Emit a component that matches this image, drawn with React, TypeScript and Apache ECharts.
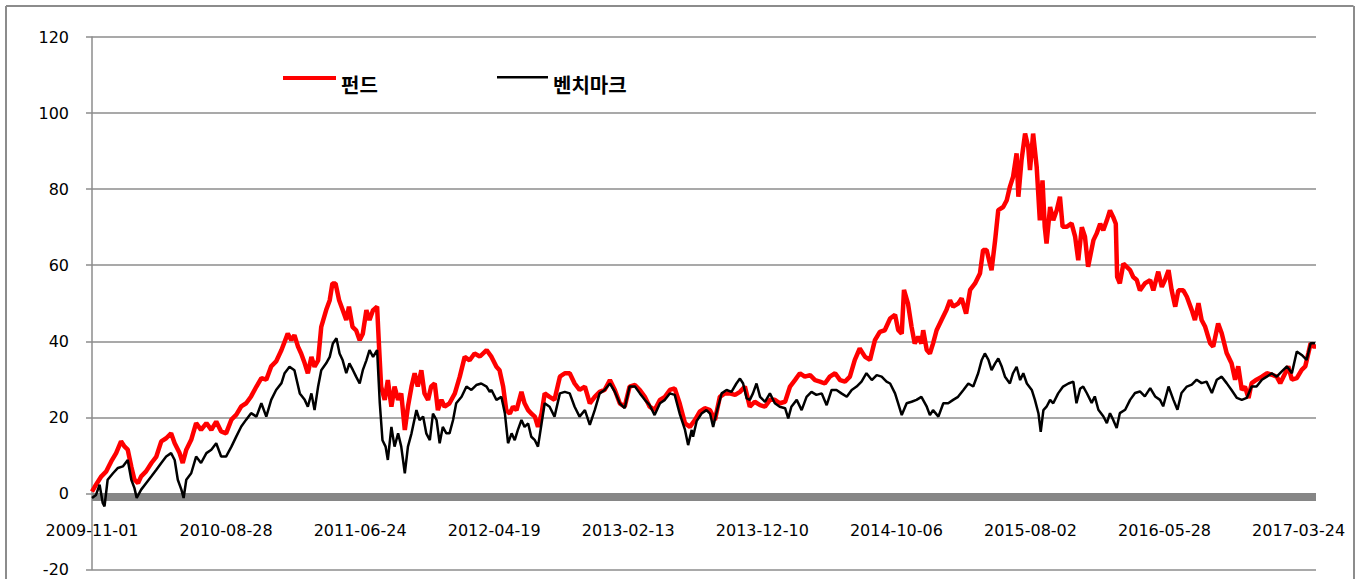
import React, { useEffect, useRef } from "react";
import * as echarts from "echarts";

// x values are calendar days counted from 2009-11-01
const startDate = "2009-11-01";
const tickLabels = [
  "2009-11-01", "2010-08-28", "2011-06-24", "2012-04-19", "2013-02-13",
  "2013-12-10", "2014-10-06", "2015-08-02", "2016-05-28", "2017-03-24",
];
const tickStepDays = 300;
const lastDay = 2739;

const yTicks = { min: -20, max: 120, step: 20 };

const legendNames = ["펀드", "벤치마크"];

// 펀드 (fund) — [day, value]
const fundPoints: [number, number][] = [
  [0, 0.5], [9, 2.3], [21, 4.5], [32, 5.8], [43, 8.4], [54, 10.6], [65, 13.7], [73, 12.3],
  [80, 11.5], [88, 7], [95, 3.6], [103, 2.7], [110, 4.5], [121, 5.8], [133, 8], [144, 9.7],
  [155, 13.7], [166, 14.5], [177, 15.8], [185, 13.2], [196, 10.6], [203, 8], [211, 11.5],
  [222, 14.1], [233, 18.5], [244, 16.7], [256, 18.5], [267, 16.7], [278, 18.9], [289, 16.3],
  [300, 15.8], [312, 19.4], [323, 20.7], [334, 22.9], [345, 23.7], [356, 25.5], [368, 28.1],
  [379, 30.3], [390, 29.9], [401, 33.4], [412, 34.7], [424, 37.7], [438, 42], [446, 40.3],
  [453, 41.6], [461, 38.6], [468, 36.8], [476, 34.2], [483, 31.6], [491, 35.9], [498, 33.3],
  [506, 35], [513, 43.8], [524, 48.2], [532, 50.8], [538, 55.2], [545, 55.2], [553, 50.8],
  [561, 48.2], [569, 45.6], [575, 49.1], [583, 43.8], [591, 42.9], [599, 40.3], [606, 42],
  [614, 48.2], [621, 45.6], [629, 48.2], [638, 49.1], [642, 39.4], [647, 28.1], [655, 24.6],
  [662, 29.8], [670, 22.8], [677, 28.1], [685, 24.6], [692, 26.3], [700, 16.7], [707, 22.8],
  [715, 28.1], [722, 31.6], [729, 28.1], [737, 32.4], [744, 26.3], [752, 24.6], [759, 28.1],
  [767, 28.9], [774, 21.9], [782, 24.6], [789, 22.8], [800, 23.7], [812, 26.3], [823, 30.7],
  [834, 35.9], [845, 35], [856, 36.8], [868, 36], [883, 37.7], [894, 35.9], [905, 33.3],
  [912, 32.4], [920, 28.1], [927, 21.9], [935, 21], [942, 22.8], [950, 21.9], [961, 26.7],
  [968, 23.7], [976, 21.9], [983, 21], [991, 20.2], [998, 17.5], [1006, 21], [1013, 26.3],
  [1024, 25.4], [1035, 24.6], [1047, 30.7], [1058, 31.6], [1069, 31.6], [1080, 28.9],
  [1091, 27.2], [1103, 28.1], [1114, 23.7], [1125, 25.4], [1136, 26.7], [1147, 27.2],
  [1159, 29.8], [1170, 27.2], [1181, 23.7], [1192, 22.8], [1203, 28.1], [1215, 28.5],
  [1226, 27.2], [1237, 25.4], [1248, 22.8], [1259, 21.9], [1271, 24.6], [1282, 25.4],
  [1293, 27.2], [1304, 27.6], [1315, 23.7], [1327, 18.4], [1338, 17.5], [1349, 19.3],
  [1360, 21.5], [1371, 22.4], [1383, 21.9], [1394, 19.3], [1405, 25.4], [1416, 26.3],
  [1427, 26.3], [1439, 25.9], [1450, 26.7], [1461, 28.1], [1472, 22.8], [1483, 24.1],
  [1495, 23.2], [1506, 22.8], [1517, 24.6], [1528, 24.6], [1539, 23.7], [1551, 24.1],
  [1562, 28.1], [1573, 29.8], [1584, 31.6], [1595, 30.7], [1607, 31.1], [1618, 29.8],
  [1629, 29.4], [1640, 28.9], [1651, 30.7], [1663, 31.6], [1674, 29.8], [1685, 29.4],
  [1696, 30.7], [1707, 35.1], [1718, 38.1], [1730, 35.9], [1741, 35.1], [1752, 40.3],
  [1763, 42.5], [1774, 42.9], [1786, 46], [1797, 47], [1804, 43], [1812, 42], [1817, 53.5],
  [1826, 49.9], [1834, 43.8], [1841, 39.4], [1849, 41.2], [1856, 39.4], [1860, 42.9],
  [1868, 37.7], [1875, 36.8], [1882, 39.4], [1890, 42.9], [1901, 45.6], [1912, 48.2],
  [1920, 50.8], [1927, 49.1], [1938, 49.9], [1946, 51.3], [1956, 47.3], [1965, 53.5],
  [1976, 55.2], [1987, 57.8], [1994, 64], [2002, 64], [2009, 60.5], [2013, 58.7], [2021, 66.6],
  [2028, 74.5], [2039, 75.3], [2047, 77.1], [2054, 80.6], [2061, 83.2], [2069, 89.4],
  [2073, 78], [2080, 87.6], [2088, 94.6], [2095, 91.1], [2099, 85], [2106, 94.6], [2114, 85.8],
  [2121, 71.8], [2127, 82.3], [2132, 70.1], [2136, 65.7], [2144, 75.3], [2151, 71.8],
  [2159, 74.5], [2166, 78], [2172, 70.1], [2181, 70.1], [2192, 71], [2200, 67.5], [2207, 61.3],
  [2215, 70], [2222, 67.5], [2229, 59.6], [2241, 66.6], [2248, 68.3], [2256, 70.9],
  [2263, 69.2], [2271, 71.8], [2278, 74.4], [2285, 72.7], [2291, 70.9], [2294, 56.9],
  [2300, 55.2], [2308, 60.4], [2315, 59.6], [2323, 58.7], [2330, 56.9], [2338, 56.1],
  [2345, 53.4], [2356, 55.2], [2368, 56.1], [2375, 53.4], [2386, 58.3], [2394, 54.3],
  [2401, 56.1], [2409, 58.7], [2416, 53.4], [2424, 49.1], [2431, 53.4], [2442, 53.4],
  [2450, 51.7], [2461, 48.2], [2468, 45.6], [2476, 50], [2483, 45.6], [2491, 43.8],
  [2502, 39.5], [2509, 38.6], [2520, 44.7], [2528, 42.1], [2539, 36.9], [2550, 34.2],
  [2558, 29.9], [2565, 33.4], [2573, 27.2], [2580, 28.1], [2588, 25.1], [2595, 29],
  [2606, 29.9], [2618, 30.7], [2629, 31.6], [2640, 31.2], [2651, 30.7], [2659, 29],
  [2670, 31.6], [2677, 33.4], [2685, 29.9], [2696, 30.3], [2707, 32.5], [2715, 33.4],
  [2722, 36.9], [2727, 39.5], [2733, 38.6], [2739, 38.6],
];

// 벤치마크 (benchmark) — [day, value]
const benchPoints: [number, number][] = [
  [0, -1.2], [9, -0.4], [17, 2.3], [24, -2.5], [28, -3.4], [35, 3.6], [47, 5.3], [58, 6.7],
  [69, 7.1], [80, 8.8], [88, 3.6], [95, 1.4], [100, -1.2], [110, 1], [121, 2.7], [133, 4.5],
  [144, 6.2], [155, 8], [166, 9.7], [177, 10.6], [185, 8.8], [192, 3.6], [200, 1], [205, -1.2],
  [211, 3.6], [222, 5.3], [233, 9.7], [244, 8], [256, 10.6], [267, 11.5], [278, 13.2],
  [289, 9.7], [300, 9.7], [312, 12.3], [323, 15], [334, 17.6], [345, 19.4], [356, 21.1],
  [368, 20.2], [379, 23.7], [390, 20.2], [401, 24.6], [412, 27.2], [424, 29], [431, 31.6],
  [442, 33.3], [453, 32.4], [465, 26.3], [476, 24.6], [483, 22.8], [491, 26.3], [498, 21.9],
  [506, 28.1], [513, 32.4], [524, 34.2], [532, 35.9], [539, 39.4], [547, 40.8], [554, 36.8],
  [561, 35], [569, 31.6], [576, 34.2], [584, 32.4], [591, 30.7], [599, 28.9], [606, 32.4],
  [614, 35], [621, 37.7], [629, 35.9], [638, 37.7], [644, 23.7], [650, 14], [657, 12.3],
  [662, 8.8], [670, 17.5], [677, 12.3], [685, 15.8], [692, 12.3], [700, 5.3], [707, 12.3],
  [715, 15.8], [726, 21.9], [733, 19.3], [741, 20.2], [748, 15.8], [756, 14], [763, 21],
  [771, 19.3], [778, 13.2], [785, 17.5], [793, 15.8], [800, 15.8], [808, 19.3], [815, 23.7],
  [827, 25.4], [838, 28.1], [849, 27.2], [860, 28.5], [871, 28.9], [883, 28.1], [890, 26.7],
  [894, 27.2], [905, 24.6], [916, 25.4], [924, 21], [931, 13.2], [939, 15.8], [946, 14],
  [953, 16.7], [961, 19.3], [968, 17.5], [976, 18.4], [983, 14.9], [991, 14], [998, 12.3],
  [1006, 18.4], [1013, 23.7], [1024, 22.8], [1035, 20.2], [1047, 26.3], [1058, 26.7],
  [1069, 26.3], [1080, 22.8], [1091, 20.2], [1103, 21.9], [1114, 18], [1125, 21.9],
  [1136, 26.3], [1147, 27.2], [1159, 28.9], [1170, 26.7], [1181, 23.7], [1192, 22.4],
  [1203, 28.1], [1215, 28.1], [1226, 26.3], [1237, 24.6], [1248, 23.2], [1259, 20.6],
  [1271, 23.7], [1282, 24.6], [1293, 26.3], [1304, 25.9], [1315, 21], [1327, 16.7],
  [1334, 12.7], [1342, 16.7], [1345, 14.9], [1353, 19], [1364, 21], [1375, 21.9], [1383, 21],
  [1390, 17.5], [1397, 21], [1409, 26.3], [1420, 27.2], [1431, 26.7], [1442, 28.9],
  [1450, 30.2], [1457, 28.9], [1465, 25], [1472, 24.6], [1479, 26.3], [1487, 28.9],
  [1495, 25.4], [1506, 24.1], [1517, 26.3], [1528, 23.7], [1539, 22.8], [1551, 22.4],
  [1558, 19.7], [1565, 22.8], [1577, 24.6], [1588, 21.9], [1599, 25.4], [1610, 26.7],
  [1621, 25.9], [1633, 26.3], [1644, 23.2], [1655, 27.2], [1666, 27.2], [1677, 26.3],
  [1689, 25.4], [1700, 27.2], [1711, 28.1], [1722, 29.4], [1733, 31.6], [1745, 29.8],
  [1756, 31.1], [1767, 30.7], [1778, 29.4], [1786, 28.9], [1797, 26.3], [1804, 23.7],
  [1812, 20.6], [1823, 23.7], [1834, 24.1], [1845, 24.6], [1856, 25.4], [1868, 22.8],
  [1875, 20.6], [1882, 21.9], [1894, 20.2], [1905, 23.7], [1916, 23.7], [1927, 24.6],
  [1938, 25.4], [1950, 27.2], [1961, 28.9], [1972, 28.1], [1983, 31.6], [1991, 35.1],
  [1998, 36.8], [2006, 35.1], [2013, 32.4], [2021, 34.2], [2028, 35.5], [2036, 33.3],
  [2043, 30.7], [2054, 28.9], [2061, 31.6], [2069, 33.3], [2077, 29.8], [2084, 31.6],
  [2092, 28.9], [2103, 27.2], [2110, 24.6], [2118, 21], [2123, 16.2], [2129, 21.9],
  [2136, 22.8], [2144, 24.6], [2151, 23.7], [2162, 26.3], [2173, 28.1], [2185, 28.9],
  [2196, 29.4], [2203, 23.7], [2211, 27.5], [2218, 28.1], [2226, 26.4], [2237, 23.8],
  [2244, 25.5], [2252, 22], [2263, 20.3], [2271, 18.5], [2278, 21.1], [2285, 19.4],
  [2293, 17.2], [2300, 21.1], [2312, 22], [2323, 24.6], [2334, 26.4], [2345, 26.8],
  [2356, 25.5], [2368, 27.7], [2379, 25.5], [2390, 24.6], [2397, 22.9], [2409, 28.1],
  [2420, 24.6], [2429, 22], [2438, 26.4], [2450, 28.1], [2461, 28.6], [2472, 29.9],
  [2483, 29], [2494, 29.4], [2506, 26.4], [2517, 29.9], [2528, 30.7], [2539, 29],
  [2550, 27.2], [2562, 25.1], [2573, 24.6], [2584, 25.1], [2595, 28.1], [2606, 28.1],
  [2618, 29.9], [2629, 30.7], [2640, 31.6], [2651, 30.7], [2662, 32], [2674, 33.4],
  [2685, 31.6], [2696, 37.3], [2707, 36.4], [2718, 35.1], [2727, 39.5], [2737, 39.5],
];

const labelFont = "DejaVu Sans";
const legendFont = "Noto Sans CJK KR";
const gridGray = "#8c8c8c";
const frameGray = "#8c8c8c";

export default function App() {
  const ref = useRef<HTMLDivElement>(null);

  useEffect(() => {
    if (!ref.current) return;
    const chart = echarts.init(ref.current, null, { renderer: "svg" });
    const legendText = {
      fontFamily: legendFont,
      fontWeight: "bold" as const,
      fontSize: 20,
      color: "#000",
    };
    chart.setOption({
      animation: false,
      backgroundColor: "#ffffff",
      legend: [
        {
          data: [legendNames[0]],
          left: 283,
          top: 74,
          padding: 0,
          icon: "path://M0,0 L53,0 L53,4 L0,4 Z M0,16 L1,16",
          itemWidth: 53,
          itemHeight: 16,
          itemStyle: { borderWidth: 0 },
          textStyle: legendText,
        },
        {
          data: [legendNames[1]],
          left: 497,
          top: 74,
          padding: 0,
          icon: "path://M0,0 L51,0 L51,2.5 L0,2.5 Z M0,16 L1,16",
          itemWidth: 51,
          itemHeight: 16,
          itemStyle: { borderWidth: 0 },
          textStyle: legendText,
        },
      ],
      grid: { left: 92, top: 37, width: 1224, height: 532.5 },
      xAxis: {
        type: "value",
        min: 0,
        max: lastDay,
        interval: tickStepDays,
        offset: -72.5,
        axisLine: {
          show: true,
          onZero: false,
          lineStyle: { color: "#868686", width: 8, cap: "butt" },
        },
        axisTick: { show: false },
        splitLine: { show: false },
        axisLabel: {
          fontFamily: labelFont,
          fontSize: 16,
          color: "#000",
          margin: 25,
          formatter: (v: number) =>
            v % tickStepDays === 0 ? tickLabels[v / tickStepDays] ?? "" : "",
        },
      },
      yAxis: {
        type: "value",
        min: yTicks.min,
        max: yTicks.max,
        interval: yTicks.step,
        axisLine: { show: true, onZero: false, lineStyle: { color: gridGray, width: 1.5 } },
        axisTick: { show: true, length: 6, lineStyle: { color: gridGray, width: 1.5 } },
        splitLine: { show: true, lineStyle: { color: gridGray, width: 1.5 } },
        axisLabel: { fontFamily: labelFont, fontSize: 16, color: "#000", margin: 23 },
      },
      series: [
        {
          name: legendNames[0],
          type: "line",
          data: fundPoints,
          symbol: "none",
          lineStyle: { color: "#ff0000", width: 4.5 },
          itemStyle: { color: "#ff0000" },
          z: 3,
          markLine: {
            silent: true,
            symbol: "none",
            label: { show: false },
            emphasis: { disabled: true },
            lineStyle: { color: frameGray, width: 2, type: "solid", opacity: 1 },
            data: [
              [{ x: 6, y: 579 }, { x: 6, y: 6 }],
              [{ x: 6, y: 6 }, { x: 1353.5, y: 6 }],
              [{ x: 1353.5, y: 6 }, { x: 1353.5, y: 579 }],
            ],
          },
        },
        {
          name: legendNames[1],
          type: "line",
          data: benchPoints,
          symbol: "none",
          lineStyle: { color: "#000000", width: 2.5 },
          itemStyle: { color: "#000000" },
          z: 4,
        },
      ],
    });
    return () => chart.dispose();
  }, []);

  return (
    <div
      ref={ref}
      data-start={startDate}
      style={{ position: "fixed", left: 0, top: 0, width: 1362, height: 579, background: "#fff" }}
    />
  );
}
